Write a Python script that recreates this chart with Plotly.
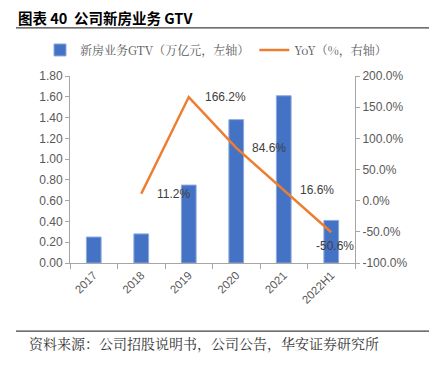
import plotly.graph_objects as go

categories = ["2017", "2018", "2019", "2020", "2021", "2022H1"]
gtv = [0.25, 0.28, 0.75, 1.38, 1.61, 0.41]
yoy_categories = ["2018", "2019", "2020", "2021", "2022H1"]
yoy = [11.2, 166.2, 84.6, 16.6, -50.6]
left_ticks = [0, 0.2, 0.4, 0.6, 0.8, 1.0, 1.2, 1.4, 1.6, 1.8]
right_ticks = [-100, -50, 0, 50, 100, 150, 200]

OFF = 8  # page body margin
W, H = 437 - OFF, 370 - OFF
L, R, T, B = 70 - OFF, 355 - OFF, 76 - OFF, 262.7 - OFF
pw, ph = R - L, B - T

def px(x):
    return (x - OFF - L) / pw

def py(y):
    return (B - (y - OFF)) / ph

fig = go.Figure()
fig.add_trace(go.Bar(
    x=categories, y=gtv, name="新房业务GTV（万亿元，左轴）",
    marker=dict(color="#4472C4", line=dict(color="#8FAADC", width=1)),
    width=0.31, yaxis="y",
))
fig.add_trace(go.Scatter(
    x=yoy_categories, y=yoy, name="YoY（%，右轴）", mode="lines",
    line=dict(color="#ED7D31", width=2.5), yaxis="y2",
))

for c, v in zip(yoy_categories, yoy):
    xi = categories.index(c)
    if v < 0:
        fig.add_annotation(x=xi, y=v, xref="x", yref="y2", text=f"{v:.1f}%",
                           showarrow=False, xanchor="center", yanchor="middle",
                           xshift=4, yshift=-14,
                           font=dict(size=12, color="#404040", family="Liberation Sans"))
    else:
        fig.add_annotation(x=xi, y=v, xref="x", yref="y2", text=f"{v:.1f}%",
                           showarrow=False, xanchor="left", yanchor="middle",
                           xshift=14, yshift=0,
                           font=dict(size=12, color="#404040", family="Liberation Sans"))

axis_font = dict(size=12, color="#595959", family="Liberation Sans")
fig.update_layout(
    width=W, height=H,
    margin=dict(l=L, r=W - R, t=T, b=H - B, autoexpand=False),
    paper_bgcolor="white", plot_bgcolor="white",
    showlegend=True,
    legend=dict(orientation="h", x=px(40), y=py(50), xanchor="left", yanchor="middle",
                font=dict(size=12, color="#595959", family="Noto Serif CJK SC, Noto Sans CJK SC"),
                bgcolor="rgba(0,0,0,0)", itemwidth=30, traceorder="normal"),
    xaxis=dict(type="category", tickangle=-45, tickfont=dict(size=11.5, color="#595959", family="Liberation Sans"),
               showline=True, linecolor="#A6A6A6", linewidth=1, ticks="outside",
               tickcolor="#A6A6A6", ticklen=5, tickson="boundaries", showgrid=False,
               range=[-0.5, 5.5]),
    yaxis=dict(range=[0, 1.8], tickvals=left_ticks, tickformat=".2f", tickfont=axis_font,
               showline=True, linecolor="#A6A6A6", linewidth=1, ticks="outside",
               tickcolor="#A6A6A6", ticklen=4, showgrid=False, zeroline=False),
    yaxis2=dict(range=[-100, 200], tickvals=right_ticks,
                ticktext=[f"{t:.1f}%" for t in right_ticks], tickfont=axis_font,
                overlaying="y", side="right",
                showline=True, linecolor="#A6A6A6", linewidth=1, ticks="outside",
                tickcolor="#A6A6A6", ticklen=4, showgrid=False, zeroline=False),
    bargap=0.69,
)

fig.add_annotation(xref="paper", yref="paper", x=px(17), y=py(17.8), xanchor="left", yanchor="middle",
                   text="<b>图表 40  公司新房业务 GTV</b>", showarrow=False, borderpad=0,
                   font=dict(size=14.5, color="black", family="Noto Sans CJK SC"))
fig.add_shape(type="line", xref="paper", yref="paper", x0=px(16), x1=px(437),
              y0=py(28), y1=py(28), line=dict(color="#404040", width=1.3))
fig.add_shape(type="line", xref="paper", yref="paper", x0=px(16), x1=px(437),
              y0=py(330.7), y1=py(330.7), line=dict(color="#404040", width=1.3))
fig.add_annotation(xref="paper", yref="paper", x=px(27), y=py(343), xanchor="left", yanchor="middle",
                   text="资料来源：公司招股说明书，公司公告，华安证券研究所", showarrow=False,
                   font=dict(size=14, color="#333333", family="Noto Serif CJK SC, Noto Sans CJK SC"))

fig.write_html("out.html")
